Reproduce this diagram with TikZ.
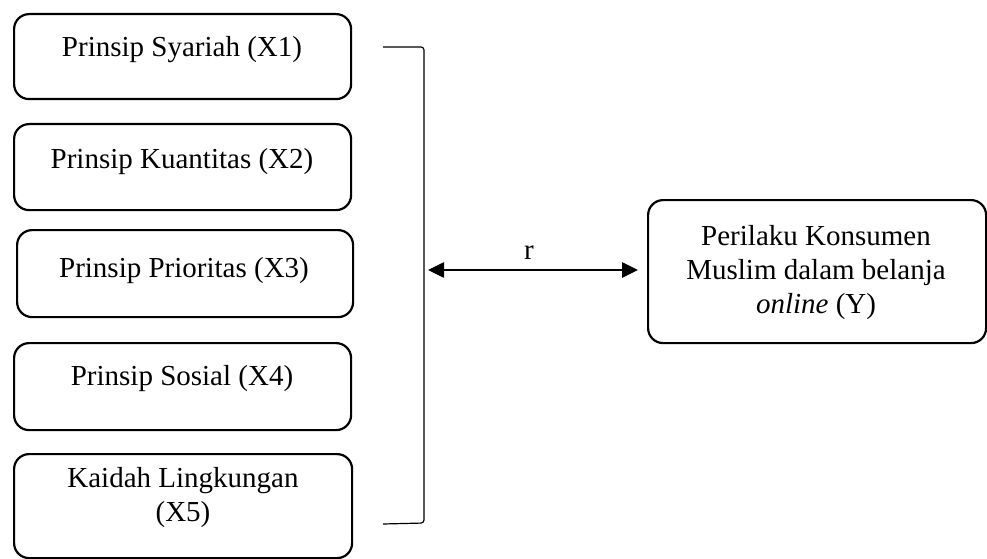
\documentclass[tikz,border=0pt]{standalone}
\usepackage{fontspec}
\setmainfont{Liberation Serif}
\usetikzlibrary{arrows.meta}
\begin{document}
\begin{tikzpicture}[x=1pt,y=-1pt,
  varbox/.style={draw, line width=2.2pt, rounded corners=15pt, anchor=north west, inner sep=0pt},
  lbl/.style={anchor=base, align=center, inner sep=0pt, font=\fontsize{29}{34}\selectfont},
  brace/.style={line width=1.2pt, rounded corners=3pt},
  rel/.style={line width=2.6pt, {Triangle[length=16pt,width=15pt]}-{Triangle[length=16pt,width=15pt]}}]
\useasboundingbox (0,0) rectangle (987,559);
% left boxes
\node[varbox, minimum width=337pt, minimum height=85pt] (b1) at (13,13) {};
\node[varbox, minimum width=337pt, minimum height=86pt] (b2) at (13,123) {};
\node[varbox, minimum width=336pt, minimum height=87pt] (b3) at (16,229) {};
\node[varbox, minimum width=337pt, minimum height=87pt] (b4) at (13,342) {};
\node[varbox, minimum width=338pt, minimum height=104pt] (b5) at (13,453) {};
\node[lbl] (t1) at (182,57) {Prinsip Syariah (X1)};
\node[lbl] (t2) at (182,168) {Prinsip Kuantitas (X2)};
\node[lbl] (t3) at (184,277) {Prinsip Prioritas (X3)};
\node[lbl] (t4) at (182,385) {Prinsip Sosial (X4)};
\node[lbl] (t5) at (183,521) {Kaidah Lingkungan\\(X5)};
% right box
\node[varbox, minimum width=338pt, minimum height=143pt] (y) at (647,199) {};
\node[lbl] (ty) at (816,313) {Perilaku Konsumen\\Muslim dalam belanja\\\textit{online} (Y)};
% bracket
\coordinate (bt) at (383,47);
\coordinate (bb) at (383,524);
\coordinate (bm) at (424,270);
\draw[brace] (bt) -- (424,47) -- (424,523) -- (bb);
% relation arrow
\coordinate (ar) at (638,270);
\draw[rel] ([xshift=4pt]bm) -- node[lbl, above=11pt, anchor=base, xshift=-4pt] (r) {r} (ar);
\end{tikzpicture}
\end{document}
